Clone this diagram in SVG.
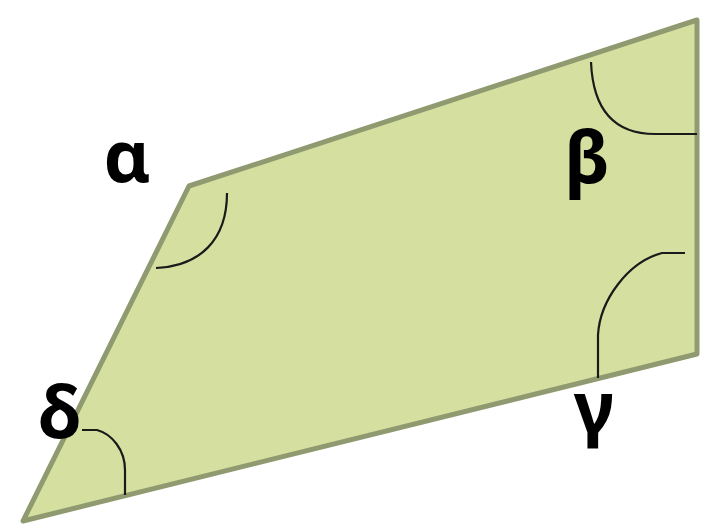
<svg xmlns="http://www.w3.org/2000/svg" width="706" height="532" viewBox="0 0 706 532">
<style>
.lbl{font-family:"Noto Sans","DejaVu Sans",sans-serif;font-weight:bold;font-size:72px;fill:#000;text-anchor:middle}
.arc{fill:none;stroke:#1a1a1a;stroke-width:2.2}
</style>
<rect width="706" height="532" fill="#fff"/>
<g id="shape">
<path d="M23,521 L189,186 L697,20 L697,354 Z" fill="#d5e0a0" stroke="#8f9a70" stroke-width="5" stroke-linejoin="round"/>
</g>
<g id="arcs">
<path class="arc" d="M156,268 C200,266 227,240 227,193"/>
<path class="arc" d="M591,62 C593,110 615,134 655,134 L697,134"/>
<path class="arc" d="M685,253 L662,253 C628,262 600,300 598,335 L598,378"/>
<path class="arc" d="M82,430 L97,430 C112,434 125,450 125,470 L125,495"/>
</g>
<g id="labels">
<text class="lbl" x="127" y="182">α</text>
<text class="lbl" x="587" y="183">β</text>
<text class="lbl" x="594" y="433">γ</text>
<text class="lbl" x="60" y="438">δ</text>
</g>
</svg>
